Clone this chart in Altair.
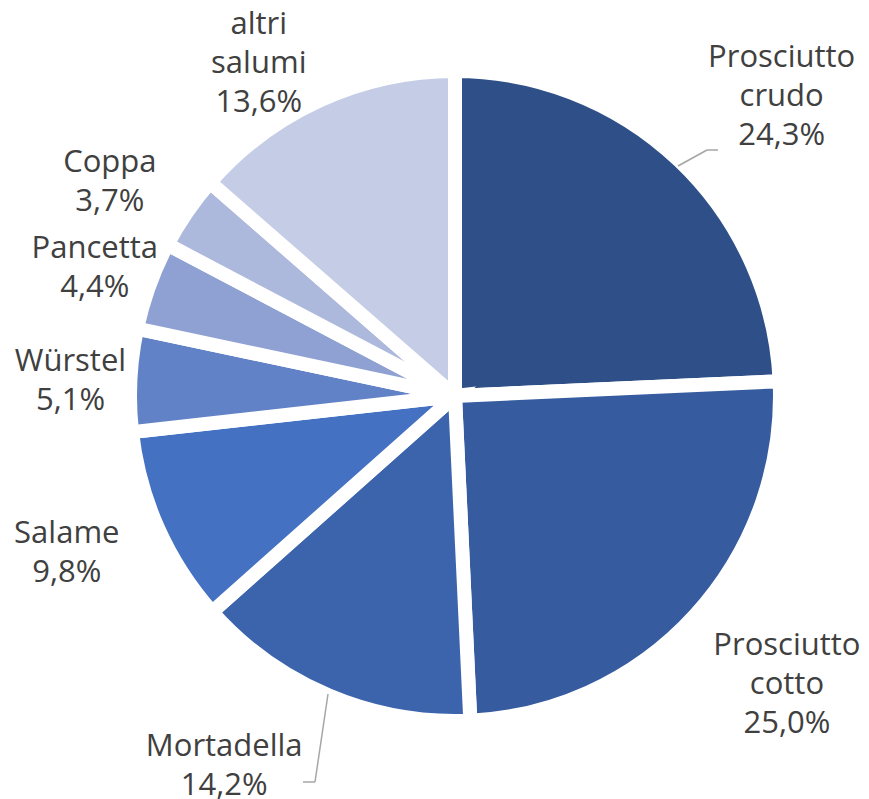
import altair as alt
import pandas as pd

categories = ["Prosciutto crudo", "Prosciutto cotto", "Mortadella", "Salame",
              "Würstel", "Pancetta", "Coppa", "altri salumi"]
values = [24.3, 25.0, 14.2, 9.8, 5.1, 4.4, 3.7, 13.6]
colors = ["#2E4F87", "#365B9F", "#3C64AD", "#4471C2", "#6282C7", "#8EA1D2", "#ADB9DC", "#C5CDE6"]

total = sum(values)

df = pd.DataFrame({
    "idx": list(range(len(categories))),
    "category": categories,
    "value": values,
})
df["label"] = [c.replace(" ", "\n") + "\n" + f"{v:.1f}".replace(".", ",") + "%"
               for c, v in zip(categories, values)]

CX, CY = 447, 382
R = 325
FONT = "Open Sans"

base = alt.Chart(df).transform_window(
    cum="sum(value)", sort=[alt.SortField("idx")]
).transform_calculate(
    start="datum.cum - datum.value",
    mid="datum.cum - datum.value / 2",
)

theta_scale = alt.Scale(domain=[0, total])
color_enc = alt.Color("category:N", scale=alt.Scale(domain=categories, range=colors), legend=None)

arcs = base.mark_arc(outerRadius=R, stroke="white", strokeWidth=14, strokeJoin="miter").encode(
    theta=alt.Theta("start:Q", scale=theta_scale, stack=False),
    theta2="cum:Q",
    color=color_enc,
    x=alt.value(CX),
    y=alt.value(CY),
)

# label placement per slice: (radius, dx, dy)
placement = {
    "Prosciutto crudo": (441, 22, -19),
    "Prosciutto cotto": (441, 6, -47),
    "Mortadella": (440, -60, -55),
    "Salame": (414, -10, -30),
    "Würstel": (385, 0, -15),
    "Pancetta": (383, 0, -17),
    "Coppa": (410, -7, -1),
    "altri salumi": (387, -36, -19),
}

layers = [arcs]
for cat, (rad, dx, dy) in placement.items():
    layers.append(
        base.transform_filter(alt.datum.category == cat).mark_text(
            lineBreak="\n", font=FONT, fontSize=31, lineHeight=39,
            color="#404040", align="center", baseline="middle",
            radius=rad, dx=dx, dy=dy,
        ).encode(
            theta=alt.Theta("mid:Q", scale=theta_scale, stack=False),
            text="label:N",
            x=alt.value(CX),
            y=alt.value(CY),
        )
    )

leader_color = "#A6A6A6"
lines = [
    ((670, 152), (699, 136)),
    ((699, 136), (710, 136)),
    ((320, 680), (307, 768)),
    ((307, 768), (295, 768)),
]
for (x1, y1), (x2, y2) in lines:
    layers.append(
        alt.Chart(df.head(1)).mark_rule(color=leader_color, strokeWidth=1.5).encode(
            x=alt.value(x1), y=alt.value(y1), x2=alt.value(x2), y2=alt.value(y2)
        )
    )

chart = alt.layer(*layers).properties(
    width=853, height=783, padding=0
).configure_view(stroke=None)

chart.save("out.html", embed_options={"renderer": "svg", "actions": False})
